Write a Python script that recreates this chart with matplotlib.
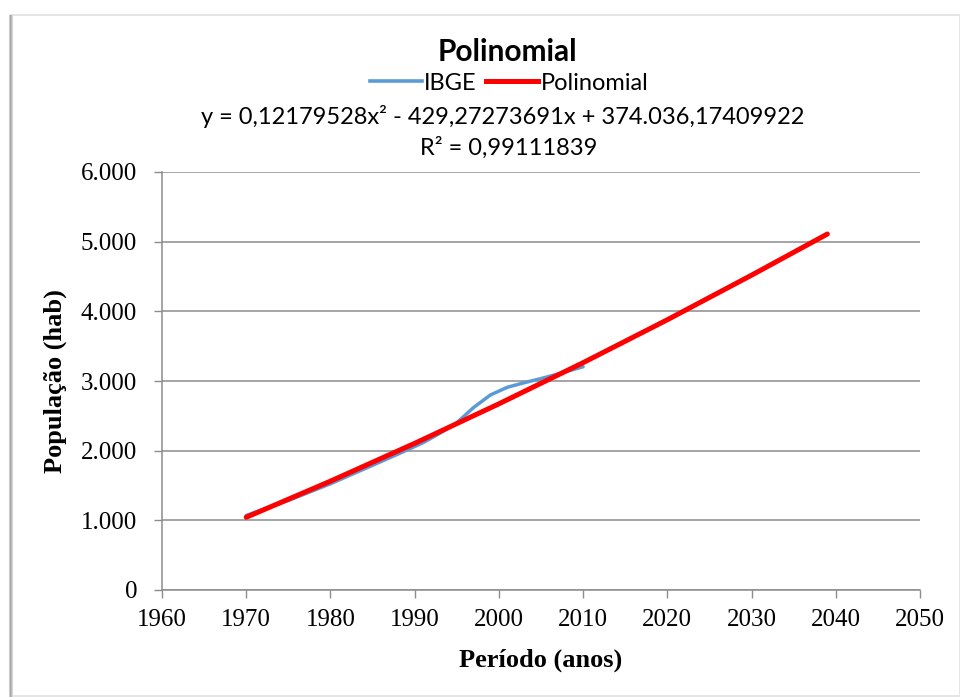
import matplotlib
matplotlib.use('Agg')
import matplotlib.pyplot as plt
from matplotlib.lines import Line2D
from matplotlib.patches import Rectangle

# IBGE census series
anos_ibge = [1970, 1975, 1980, 1985, 1988, 1991, 1993, 1995, 1997, 1999, 2001, 2003, 2005, 2007, 2010]
pop_ibge = [1070, 1285, 1525, 1790, 1950, 2115, 2250, 2400, 2620, 2800, 2910, 2975, 3035, 3100, 3205]

# polynomial projection
anos_poli = [1970, 1980, 1990, 2000, 2010, 2020, 2030, 2039]
pop_poli = [1044, 1562, 2105, 2672, 3263, 3879, 4519, 5110]

xticks = [1960, 1970, 1980, 1990, 2000, 2010, 2020, 2030, 2040, 2050]
yticks = [0, 1000, 2000, 3000, 4000, 5000, 6000]
ylabels = ['0', '1.000', '2.000', '3.000', '4.000', '5.000', '6.000']

azul = '#5B9BD5'
vermelho = '#FF0000'
cinza = '#8C8C8C'
serif = 'Liberation Serif'
sans = 'Lato'

fig = plt.figure(figsize=(9.6, 6.97), dpi=100)
W, H = 960.0, 697.0
ax = fig.add_axes([162 / W, 1 - 590 / H, (920 - 162) / W, (590 - 172) / H])

ax.plot(anos_ibge, pop_ibge, color=azul, linewidth=2.5, solid_capstyle='round',
        solid_joinstyle='round')
ax.plot(anos_poli, pop_poli, color=vermelho, linewidth=3.6, solid_capstyle='round')

ax.set_xlim(1960, 2050)
ax.set_ylim(0, 6000)
ax.set_xticks(xticks)
ax.set_xticklabels([str(t) for t in xticks], fontfamily=serif, fontsize=18)
ax.set_yticks(yticks)
ax.set_yticklabels(ylabels, fontfamily=serif, fontsize=18)
ax.tick_params(axis='y', direction='out', length=6, width=1, color=cinza, pad=12)
ax.tick_params(axis='x', direction='out', length=6, width=1, color=cinza, pad=8)
ax.yaxis.grid(True, color=cinza, linewidth=1.1)
ax.set_axisbelow(True)
for s in ['top', 'right']:
    ax.spines[s].set_visible(False)
for s in ['left', 'bottom']:
    ax.spines[s].set_color(cinza)
    ax.spines[s].set_linewidth(1.1)

ax.set_xlabel('Período (anos)', fontfamily=serif, fontsize=19, fontweight='bold')
ax.xaxis.set_label_coords(0.5, -0.14)
ax.set_ylabel('População (hab)', fontfamily=serif, fontsize=19, fontweight='bold')
ax.yaxis.set_label_coords(-0.125, 0.5)

# title, legend and trendline equation
cx = 507 / W
fig.text(cx, 1 - 52 / H, 'Polinomial', fontfamily=sans, fontsize=21.5, fontweight='bold',
         ha='center', va='center')
handles = [Line2D([], [], color=azul, linewidth=2.6),
           Line2D([], [], color=vermelho, linewidth=3.6)]
fig.legend(handles, ['IBGE', 'Polinomial'], loc='center', bbox_to_anchor=(509 / W, 1 - 83 / H),
           ncol=2, frameon=False, prop={'family': sans, 'size': 17},
           handlelength=2.2, handletextpad=0.1, columnspacing=0.4, borderpad=0)
fig.text(503 / W, 1 - 117 / H, 'y = 0,12179528x² - 429,27273691x + 374.036,17409922',
         fontfamily=sans, fontsize=17, ha='center', va='center')
fig.text(509 / W, 1 - 148 / H, 'R² = 0,99111839',
         fontfamily=sans, fontsize=17, ha='center', va='center')

# chart frame with a shadow on the left
fig.patches.append(Rectangle((11 / W, 1 / H), (W - 11) / W, (682 - 1) / H,
                             transform=fig.transFigure, fill=False,
                             edgecolor='#E0E0E0', linewidth=1.2))
for i, g in enumerate(['#D0D0D0', '#A8A8A8', '#B8B8B8', '#D8D8D8']):
    fig.lines.append(Line2D([(9 + i) / W] * 2, [0, 1 - 15 / H], transform=fig.transFigure,
                            color=g, linewidth=0.8))

plt.savefig('out.png', dpi=100)
